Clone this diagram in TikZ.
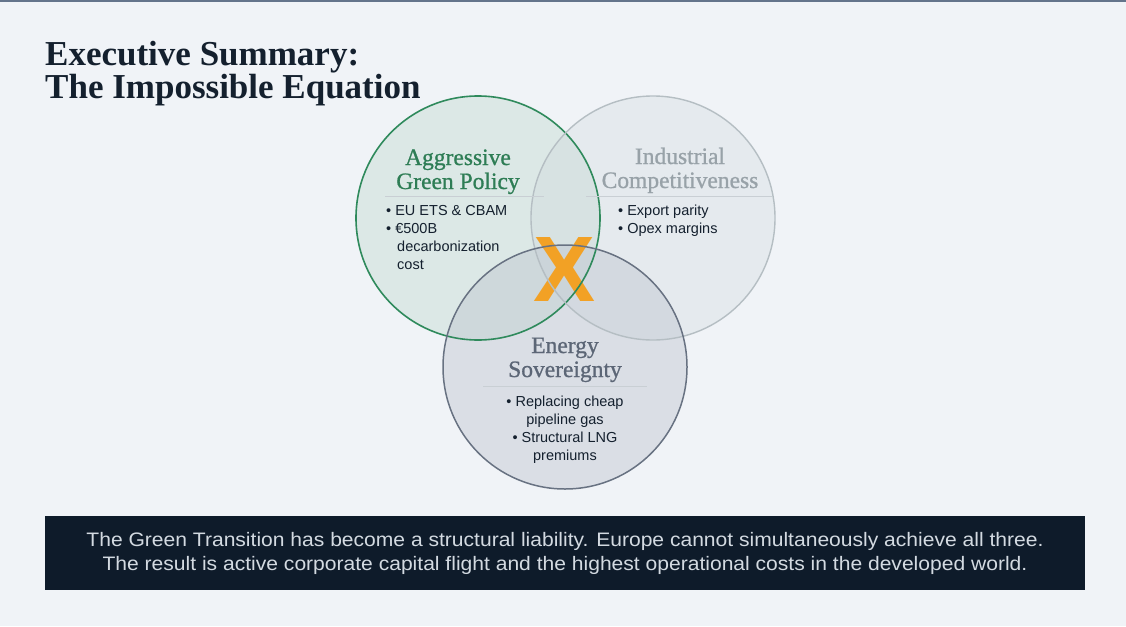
\documentclass[tikz,border=0pt]{standalone}
\usepackage{fontspec}
\setmainfont{Liberation Serif}
\setsansfont{Liberation Sans}
\newfontfamily\bannerfont{Liberation Sans}[FakeStretch=1.08]
\newfontfamily\headfont{Liberation Serif}[FakeBold=0.9]
\definecolor{pagebg}{HTML}{F0F3F7}
\definecolor{topbar}{HTML}{64748B}
\definecolor{ink}{HTML}{14202E}
\definecolor{greenline}{HTML}{2F8A5C}
\definecolor{greenfill}{HTML}{A9CDBC}
\definecolor{greenhead}{HTML}{2E7D55}
\definecolor{indline}{HTML}{B5BEC3}
\definecolor{indfill}{HTML}{CBD3D8}
\definecolor{indhead}{HTML}{98A2A8}
\definecolor{engline}{HTML}{687282}
\definecolor{engfill}{HTML}{B9C0CC}
\definecolor{enghead}{HTML}{5C6676}
\definecolor{sepline}{HTML}{C9CFD4}
\definecolor{xorange}{HTML}{F2A125}
\definecolor{banner}{HTML}{0E1B2A}
\definecolor{bannertext}{HTML}{D3DAE1}
\tikzset{
  venn/.style={circle, minimum size=244pt, inner sep=0pt},
  head/.style={font=\headfont\fontsize{23.5}{24}\selectfont, anchor=base, inner sep=0pt},
  item/.style={font=\sffamily\fontsize{14.5}{16}\selectfont, text=ink, inner sep=0pt},
  sep/.style={line width=0.8pt, sepline},
  bantext/.style={font=\bannerfont\fontsize{19.5}{20}\selectfont, text=bannertext, anchor=base, inner sep=0pt},
}
\begin{document}
\begin{tikzpicture}[x=1pt,y=-1pt]
\useasboundingbox (0,0) rectangle (1126,626);
\fill[pagebg] (0,0) rectangle (1126,626);
\fill[topbar] (0,0) rectangle (1126,2);

% title
\node[anchor=base west, inner sep=0pt, text=ink, font=\bfseries\fontsize{35}{36}\selectfont] (t1) at (45,65) {Executive Summary:};
\node[anchor=base west, inner sep=0pt, text=ink, font=\bfseries\fontsize{35}{36}\selectfont] (t2) at (45,98) {The Impossible Equation};

% circle fills
\node[venn, fill=greenfill, fill opacity=0.28] (green) at (478,218) {};
\node[venn, fill=indfill, fill opacity=0.28] (ind) at (653,218) {};
\node[venn, fill=engfill, fill opacity=0.40] (eng) at (565,367) {};

% the central cross
\node[font=\sffamily\bfseries\fontsize{93}{93}\selectfont, text=xorange, inner sep=0pt] (cross) at (565,270) {X};

% circle outlines
\draw[greenline, line width=1.6pt] (green.center) circle[radius=122pt];
\draw[indline, line width=1.4pt] (ind.center) circle[radius=122pt];
\draw[engline, line width=1.5pt] (eng.center) circle[radius=122pt];

% Aggressive Green Policy
\node[head, text=greenhead] (gh1) at (458,165) {Aggressive};
\node[head, text=greenhead] (gh2) at (458,189) {Green Policy};
\coordinate (gs1) at (385,196);
\coordinate (gs2) at (544,196);
\draw[sep] (gs1) -- (gs2);
\node[item, anchor=base west] (gb1) at (386,215) {\textbullet\ EU ETS \& CBAM};
\node[item, anchor=base west] (gb2) at (386,233) {\textbullet\ €500B};
\node[item, anchor=base west] (gb3) at (397,251) {decarbonization};
\node[item, anchor=base west] (gb4) at (397,269) {cost};

% Industrial Competitiveness
\node[head, text=indhead] (ih1) at (680,164) {Industrial};
\node[head, text=indhead] (ih2) at (680,188) {Competitiveness};
\coordinate (is1) at (586,196);
\coordinate (is2) at (772,196);
\draw[sep] (is1) -- (is2);
\node[item, anchor=base west] (ib1) at (618,215) {\textbullet\ Export parity};
\node[item, anchor=base west] (ib2) at (618,233) {\textbullet\ Opex margins};

% Energy Sovereignty
\node[head, text=enghead] (eh1) at (565,353) {Energy};
\node[head, text=enghead] (eh2) at (565,377) {Sovereignty};
\coordinate (es1) at (483,386);
\coordinate (es2) at (647,386);
\draw[sep] (es1) -- (es2);
\node[item, anchor=base] (eb1) at (565,406) {\textbullet\ Replacing cheap};
\node[item, anchor=base] (eb2) at (565,424) {pipeline gas};
\node[item, anchor=base] (eb3) at (565,442) {\textbullet\ Structural LNG};
\node[item, anchor=base] (eb4) at (565,460) {premiums};

% conclusion banner
\node[fill=banner, minimum width=1040pt, minimum height=74pt, inner sep=0pt] (bar) at (565,553) {};
\node[bantext] (bl1) at (565,546) {The Green Transition has become a structural liability. Europe cannot simultaneously achieve all three.};
\node[bantext] (bl2) at (565,570) {The result is active corporate capital flight and the highest operational costs in the developed world.};
\end{tikzpicture}
\end{document}
